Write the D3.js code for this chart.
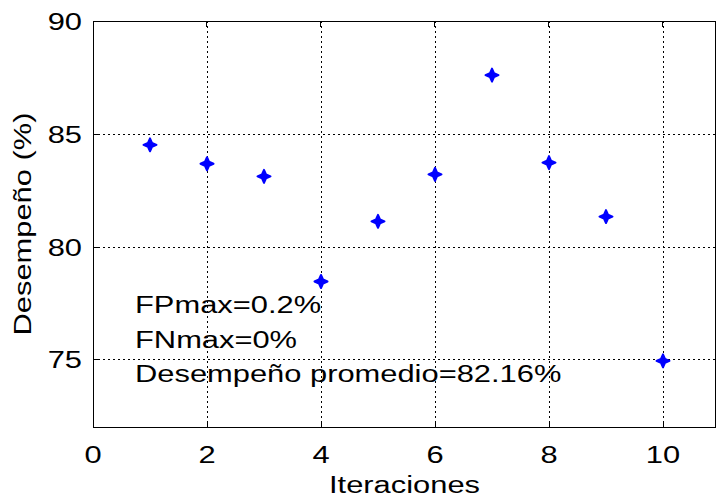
<!DOCTYPE html>
<html>
<head>
<meta charset="utf-8">
<script src="https://cdn.jsdelivr.net/npm/d3@7"></script>
<style>
  html, body { margin: 0; padding: 0; background: #fff; }
  svg { display: block; font-family: "Liberation Sans", Arial, sans-serif; }
</style>
</head>
<body>
<svg id="chart" width="717" height="500"></svg>
<script>
// Iteration results
const iterations = [1, 2, 3, 4, 5, 6, 7, 8, 9, 10];
const performance = [84.51, 83.67, 83.11, 78.45, 81.12, 83.2, 87.6, 83.72, 81.33, 74.93];
const xTicks = [0, 2, 4, 6, 8, 10];
const yTicks = [75, 80, 85, 90];
const xDomain = [0, 10.93];
const yDomain = [72, 90];
const notes = ["FPmax=0.2%", "FNmax=0%", "Desempeño promedio=82.16%"];

const svg = d3.select("#chart");
const plotLeft = 93, plotRight = 716, plotTop = 21, plotBottom = 427;
const fontSize = 24.5;
const widen = 1.26; // glyphs are drawn wider than their height

const x = d3.scaleLinear().domain(xDomain).range([plotLeft, plotRight]);
const y = d3.scaleLinear().domain(yDomain).range([plotBottom, plotTop]);

// Text helper: positioned label with horizontally widened glyphs
function label(g, px, py, str, anchor, rot) {
  return g.append("text")
    .attr("transform", `translate(${px},${py})${rot ? ` rotate(${rot})` : ""} scale(${widen},1)`)
    .attr("text-anchor", anchor || "start")
    .attr("font-size", fontSize).attr("fill", "#000")
    .text(str);
}

// Dotted grid
const grid = svg.append("g").attr("stroke", "#000").attr("stroke-width", 1)
  .attr("stroke-dasharray", "2,3").attr("shape-rendering", "crispEdges");
grid.selectAll("line.v").data(xTicks.filter(d => d > xDomain[0])).join("line")
  .attr("class", "v")
  .attr("x1", d => Math.round(x(d)) + 0.5).attr("x2", d => Math.round(x(d)) + 0.5)
  .attr("y1", plotTop).attr("y2", plotBottom);
grid.selectAll("line.h").data(yTicks.filter(d => d < yDomain[1])).join("line")
  .attr("class", "h")
  .attr("y1", d => Math.round(y(d)) + 0.5).attr("y2", d => Math.round(y(d)) + 0.5)
  .attr("x1", plotLeft).attr("x2", plotRight);

// Axes with inward ticks (labels drawn separately below)
const xAxis = d3.axisBottom(x).tickValues(xTicks).tickSizeInner(-6).tickSizeOuter(0).tickFormat("");
const yAxis = d3.axisLeft(y).tickValues(yTicks).tickSizeInner(-6).tickSizeOuter(0).tickFormat("");
const gx = svg.append("g").attr("transform", `translate(0,${plotBottom})`).call(xAxis);
const gy = svg.append("g").attr("transform", `translate(${plotLeft},0)`).call(yAxis);
[gx, gy].forEach(g => {
  g.select(".domain").remove();
  g.selectAll("line").attr("stroke", "#000").attr("shape-rendering", "crispEdges");
  g.selectAll("text").remove();
});
// Top ticks
svg.append("g").selectAll("line").data(xTicks).join("line")
  .attr("x1", d => x(d)).attr("x2", d => x(d)).attr("y1", plotTop).attr("y2", plotTop + 6)
  .attr("stroke", "#000").attr("shape-rendering", "crispEdges");

// Tick labels
const tl = svg.append("g");
xTicks.forEach(t => label(tl, x(t), plotBottom + 36, t, "middle"));
yTicks.forEach(t => label(tl, plotLeft - 11, y(t) + 9, t, "end"));

// Box
svg.append("rect").attr("x", plotLeft + 0.5).attr("y", plotTop + 0.5)
  .attr("width", plotRight - plotLeft - 1).attr("height", plotBottom - plotTop)
  .attr("fill", "none").attr("stroke", "#000").attr("stroke-width", 1.2)
  .attr("shape-rendering", "crispEdges");

// Markers
const marker = "M0,-6.5L2,-2L6.5,0L2,2L0,6.5L-2,2L-6.5,0L-2,-2Z";
svg.append("g").selectAll("path").data(iterations).join("path")
  .attr("d", marker)
  .attr("transform", (d, i) => `translate(${x(d)},${y(performance[i])})`)
  .attr("fill", "#0000ff").attr("stroke", "#0000ff").attr("stroke-width", 2)
  .attr("stroke-linejoin", "round");

// Annotations
const ann = svg.append("g");
notes.forEach((n, i) => label(ann, 135, 313 + i * 34.5, n, "start"));

// Axis titles
label(svg, (plotLeft + plotRight) / 2, 493, "Iteraciones", "middle");
label(svg, 31, (plotTop + plotBottom) / 2, "Desempeño (%)", "middle", -90);
</script>
</body>
</html>
